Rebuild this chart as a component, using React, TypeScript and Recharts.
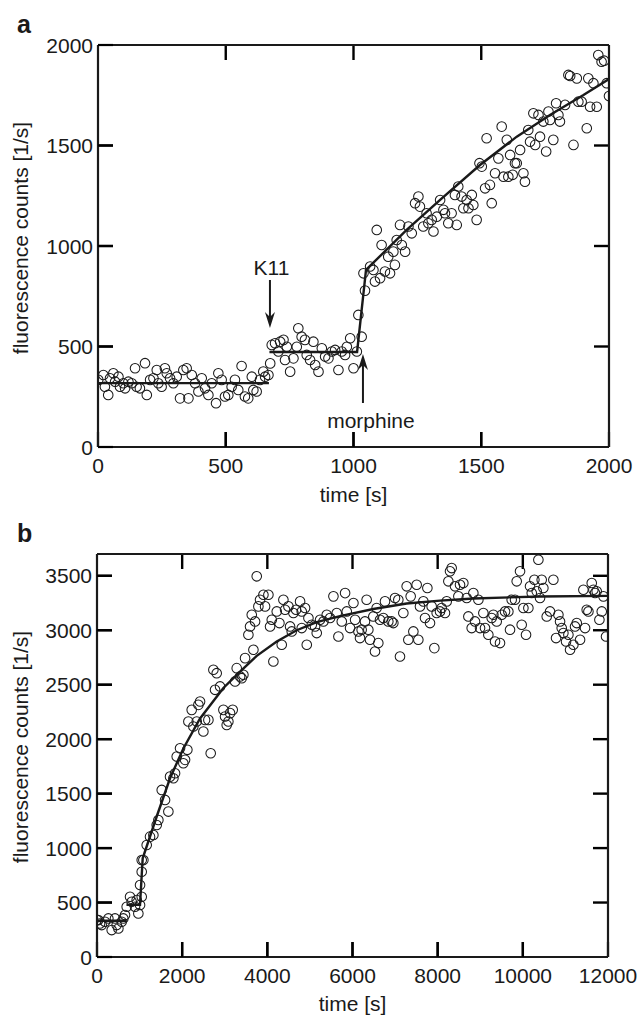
import React from 'react';
import { ComposedChart, Scatter, Line, XAxis, YAxis, ReferenceLine } from 'recharts';

const FONT = '"Liberation Sans", Arial, Helvetica, sans-serif';
const INK = '#1a1a1a';
const FS = 21;
const TICK_LEN = 15;

// ── panel a: K11 then morphine, 0–2000 s ─────────────────────────────────────
const aTime = [
  1, 21, 27, 40, 47, 60, 67, 80, 86, 99, 106, 119, 132, 145, 151, 164, 184, 191, 204, 217,
  230, 236, 249, 262, 269, 282, 295, 308, 321, 334, 347, 354, 367, 380, 393, 406, 419, 432, 445, 462,
  471, 484, 497, 510, 523, 536, 549, 562, 575, 588, 602, 608, 621, 634, 647, 654, 667,
  674, 680, 693, 706, 713, 726, 732, 739, 752, 765, 778, 784, 797, 810, 817, 830, 843, 850, 863,
  876, 889, 902, 915, 928, 941, 954, 967, 974, 987, 1000, 1013, 1019, 1032, 1039, 1045,
  1065, 1078, 1084, 1091, 1104, 1110, 1123, 1136, 1143, 1156, 1162, 1169, 1182, 1189, 1202, 1215, 1228, 1241,
  1254, 1260, 1273, 1286, 1293, 1306, 1313, 1326, 1339, 1352, 1358, 1371, 1384, 1397, 1404, 1410, 1423, 1430,
  1443, 1450, 1463, 1469, 1482, 1493, 1502, 1515, 1521, 1534, 1541, 1554, 1567, 1580, 1587, 1600, 1606, 1613,
  1623, 1632, 1639, 1652, 1665, 1671, 1684, 1691, 1704, 1711, 1724, 1730, 1743, 1754, 1763, 1769, 1782, 1793,
  1802, 1808, 1828, 1841, 1848, 1861, 1874, 1880, 1893, 1913, 1919, 1926, 1939, 1952, 1958, 1971, 1981, 1991, 2000,
];
const aCounts = [
  334, 358, 300, 259, 342, 367, 325, 350, 300, 317, 292, 325, 317, 392, 300, 292, 417, 259, 334, 342,
  383, 317, 300, 392, 367, 342, 317, 350, 242, 383, 392, 242, 358, 317, 276, 342, 292, 259, 317, 218,
  367, 334, 251, 259, 300, 334, 284, 403, 251, 242, 350, 284, 276, 334, 375, 350, 358,
  416, 508, 516, 475, 524, 533, 433, 499, 375, 441, 499, 591, 549, 533, 458, 433, 524, 408, 375,
  491, 450, 441, 475, 483, 383, 475, 458, 499, 541, 392, 475, 657, 549, 864, 778,
  898, 881, 823, 1080, 840, 1005, 873, 947, 864, 972, 906, 1030, 1105, 1005, 972, 1097, 1063, 1213,
  1246, 1196, 1097, 1163, 1113, 1130, 1072, 1146, 1229, 1180, 1163, 1113, 1163, 1254, 1105, 1296, 1246, 1188,
  1229, 1188, 1254, 1204, 1130, 1412, 1395, 1287, 1536, 1304, 1213, 1362, 1436, 1594, 1345, 1528, 1345, 1453,
  1354, 1412, 1412, 1478, 1362, 1320, 1577, 1519, 1660, 1503, 1652, 1544, 1619, 1470, 1669, 1627, 1528, 1710,
  1652, 1619, 1702, 1851, 1846, 1503, 1834, 1718, 1718, 1586, 1834, 1693, 1810, 1693, 1950, 1917, 1922, 1810, 1746,
];
const aFitTime = [0, 669, 670, 671, 1014, 1049, 1208, 1339, 1495, 1639, 1769, 1900, 2000];
const aFitCounts = [318, 318, null, 473, 473, 881, 1080, 1229, 1403, 1544, 1652, 1751, 1831];
const aXTicks = [0, 500, 1000, 1500, 2000];
const aYTicks = [0, 500, 1000, 1500, 2000];

// ── panel b: long run, 0–12000 s ─────────────────────────────────────────────
const bTime = [
  0, 32, 71, 110, 188, 267, 345, 423, 462, 502, 580, 619, 658, 697, 776, 815, 893, 932, 971, 1011,
  1011, 1050, 1050, 1050, 1089, 1167, 1245, 1324, 1402, 1441, 1520, 1598, 1676, 1715, 1794, 1833, 1872, 1950,
  2028, 2068, 2122, 2146, 2224, 2263, 2342, 2381, 2420, 2498, 2537, 2616, 2670, 2733, 2772, 2811, 2890, 2968,
  3007, 3046, 3085, 3125, 3187, 3242, 3281, 3360, 3399, 3438, 3477, 3555, 3594, 3634, 3673, 3712, 3751, 3790,
  3829, 3908, 3947, 4025, 4064, 4104, 4142, 4221, 4284, 4338, 4377, 4417, 4495, 4534, 4573, 4612, 4675, 4769,
  4808, 4808, 4886, 4926, 4965, 5043, 5121, 5160, 5239, 5317, 5395, 5474, 5552, 5630, 5669, 5748, 5826, 5865,
  5943, 6022, 6061, 6139, 6176, 6215, 6293, 6332, 6372, 6411, 6489, 6528, 6567, 6606, 6646, 6724, 6763, 6841,
  6920, 6959, 6998, 7076, 7115, 7194, 7272, 7311, 7366, 7429, 7507, 7546, 7585, 7664, 7703, 7758, 7820, 7859,
  7922, 7977, 8055, 8094, 8172, 8212, 8251, 8290, 8329, 8407, 8486, 8525, 8603, 8682, 8721, 8799, 8838, 8877,
  8956, 8995, 9073, 9112, 9190, 9269, 9308, 9347, 9386, 9464, 9504, 9582, 9660, 9699, 9738, 9817, 9856, 9934,
  9973, 10013, 10075, 10130, 10169, 10209, 10271, 10326, 10365, 10404, 10443, 10482, 10561, 10639, 10717, 10780,
  10835, 10874, 10913, 10952, 11015, 11070, 11109, 11187, 11226, 11266, 11344, 11422, 11461, 11500, 11540, 11618,
  11657, 11696, 11735, 11798, 11853, 11892, 11954,
];
const bCounts = [
  339, 339, 308, 293, 324, 354, 247, 354, 293, 262, 324, 354, 385, 461, 553, 507, 461, 523, 400, 477,
  661, 553, 783, 890, 890, 1028, 1105, 1120, 1212, 1258, 1534, 1442, 1335, 1656, 1641, 1687, 1840, 1917,
  1779, 1810, 1902, 2162, 2269, 2116, 2162, 2315, 2346, 2070, 2177, 2177, 1871, 2637, 2453, 2606, 2484, 2269,
  2208, 2131, 2162, 2239, 2269, 2530, 2652, 2576, 2560, 2591, 2744, 2959, 3035, 3142, 2821, 3081, 3495, 3219,
  3280, 3326, 3219, 3326, 3035, 3096, 2713, 3173, 3066, 2867, 3280, 3188, 3219, 3035, 2989, 3158, 3188, 3265,
  3173, 3020, 3204, 2867, 3112, 3050, 3035, 2974, 3096, 3081, 3142, 3112, 3311, 3158, 2943, 3081, 3341, 3173,
  3020, 3250, 3096, 2989, 2928, 3005, 3081, 3280, 3005, 2913, 3127, 2805, 3204, 2882, 3096, 3112, 3265, 3081,
  3081, 3066, 3296, 3280, 2759, 3158, 3403, 2913, 3311, 2989, 3418, 2913, 3219, 3265, 3112, 3388, 3066, 3219,
  2836, 3158, 3173, 3204, 3158, 3265, 3449, 3541, 3571, 3403, 3311, 3418, 3433, 3296, 3127, 3020, 3342, 3081,
  3280, 3020, 3158, 3020, 2959, 3112, 3142, 2897, 3081, 2882, 3142, 3173, 3173, 3005, 3280, 3280, 3449, 3541,
  3050, 3204, 2959, 3204, 3403, 3342, 3464, 3357, 3648, 3296, 3464, 3388, 3127, 3173, 3464, 2928,
  3142, 3081, 3020, 2974, 2897, 2959, 2821, 2867, 3035, 3066, 2913, 3372, 3020, 3188, 3173, 3434,
  3372, 3342, 3357, 3096, 3173, 3311, 2943,
];
const bFitTime = [0, 690, 691, 692, 1010, 1073, 1402, 1715, 2028, 2420, 2968, 3360, 3751, 4221, 4690, 5160, 5706, 6489, 7272, 8055, 8838, 10404, 12000];
const bFitCounts = [333, 333, null, 480, 480, 906, 1290, 1641, 1915, 2190, 2470, 2620, 2765, 2897, 3000, 3075, 3130, 3195, 3245, 3272, 3292, 3310, 3316];
const bXTicks = [0, 2000, 4000, 6000, 8000, 10000, 12000];
const bYTicks = [0, 500, 1000, 1500, 2000, 2500, 3000, 3500];

const zip = (t: number[], v: (number | null)[]) => t.map((x, i) => ({ t: x, v: v[i] }));

const OpenCircle = (p: any) => (
  <circle cx={p.cx} cy={p.cy} r={4.8} fill="none" stroke={INK} strokeWidth={1.05} />
);

// negative tickSize turns the tick marks inward; tickMargin puts the label anchor back on the axis line
const BottomLabel = (p: any) => (
  <text x={p.x} y={p.y + 25.5} textAnchor="middle" fontSize={FS} fontFamily={FONT} fill={INK}>
    {p.payload.value}
  </text>
);
const LeftLabel = (p: any) => (
  <text x={p.x - 5} y={p.y + 7.5} textAnchor="end" fontSize={FS} fontFamily={FONT} fill={INK}>
    {p.payload.value}
  </text>
);
const NoLabel = () => <g />;

function Arrow(p: any) {
  const dir = p.y2 > p.y1 ? 1 : -1;
  const { x2, y2 } = p;
  return (
    <g>
      <line x1={p.x1} y1={p.y1} x2={x2} y2={y2 - dir * 8} stroke={INK} strokeWidth={2} />
      <polygon
        points={`${x2},${y2} ${x2 - 5},${y2 - dir * 16} ${x2},${y2 - dir * 11} ${x2 + 5},${y2 - dir * 16}`}
        fill={INK}
      />
      <text x={p.x1 + p.tdx} y={p.y1 + p.tdy} textAnchor="middle" fontSize={FS} fontFamily={FONT} fill={INK}>
        {p.text}
      </text>
    </g>
  );
}

type Pt = { t: number; v: number | null };
type Box = { top: number; bottom: number; left: number; right: number };
type PanelProps = {
  letter: string;
  top: number;
  height: number;
  plot: Box;
  xMax: number;
  yMax: number;
  xTicks: number[];
  yTicks: number[];
  points: Pt[];
  fit: Pt[];
  xTitleY: number;
  yTitleY: number;
  children?: React.ReactNode;
};

// inner tick marks on all four frame edges (axis decoration only)
function FrameTicks({ plot, xMax, yMax, xTicks, yTicks }: { plot: Box; xMax: number; yMax: number; xTicks: number[]; yTicks: number[] }) {
  const px = (t: number) => plot.left + (t / xMax) * (plot.right - plot.left);
  const py = (v: number) => plot.bottom - (v / yMax) * (plot.bottom - plot.top);
  const s = { stroke: '#000', strokeWidth: 2.4 };
  const ix = xTicks.filter((t) => t > 0 && t < xMax);
  const iy = yTicks.filter((v) => v > 0 && v < yMax);
  return (
    <g className="frame-ticks">
      {ix.map((t) => (
        <line key={`t${t}`} x1={px(t)} x2={px(t)} y1={plot.top} y2={plot.top + TICK_LEN} {...s} />
      ))}
      {ix.map((t) => (
        <line key={`b${t}`} x1={px(t)} x2={px(t)} y1={plot.bottom - TICK_LEN} y2={plot.bottom} {...s} />
      ))}
      {iy.map((v) => (
        <line key={`l${v}`} x1={plot.left} x2={plot.left + TICK_LEN} y1={py(v)} y2={py(v)} {...s} />
      ))}
      {iy.map((v) => (
        <line key={`r${v}`} x1={plot.right - TICK_LEN} x2={plot.right} y1={py(v)} y2={py(v)} {...s} />
      ))}
    </g>
  );
}

function Panel({ letter, top, height, plot, xMax, yMax, xTicks, yTicks, points, fit, xTitleY, yTitleY, children }: PanelProps) {
  const axisLine = { stroke: INK, strokeWidth: 2.2 };
  const tickLine = { stroke: '#000', strokeWidth: 2.2 };
  const tickProps = { tickSize: -TICK_LEN, tickMargin: TICK_LEN, tickLine, axisLine, interval: 0 as const };
  return (
    <div style={{ position: 'absolute', left: 0, top }}>
      <ComposedChart
        width={638}
        height={height}
        margin={{ top: plot.top - 1, right: 638 - plot.right - 1, bottom: 0, left: 0 }}
      >
        <XAxis
          dataKey="t" type="number" domain={[0, xMax]} ticks={xTicks} allowDataOverflow
          height={height - plot.bottom} tick={BottomLabel} {...tickProps}
        />
        <XAxis
          xAxisId="top" orientation="top" dataKey="t" type="number" domain={[0, xMax]} ticks={xTicks}
          height={1} tick={NoLabel} {...tickProps}
        />
        <YAxis
          dataKey="v" type="number" domain={[0, yMax]} ticks={yTicks} allowDataOverflow
          width={plot.left} tick={LeftLabel} {...tickProps}
        />
        <YAxis
          yAxisId="right" orientation="right" type="number" domain={[0, yMax]} ticks={yTicks}
          width={1} tick={NoLabel} {...tickProps}
        />
        <Scatter data={points} dataKey="v" shape={OpenCircle} isAnimationActive={false} />
        <Line
          data={fit} dataKey="v" type="linear" stroke={INK} strokeWidth={2.4} dot={false}
          activeDot={false} connectNulls={false} isAnimationActive={false}
        />
        {children}
        <text x={17} y={plot.top - 12} fontSize={25} fontWeight="bold" fontFamily={FONT} fill={INK}>{letter}</text>
        <text x={(plot.left + plot.right) / 2} y={xTitleY} textAnchor="middle" fontSize={FS} fontFamily={FONT} fill={INK}>
          time [s]
        </text>
        <text
          x={28} y={yTitleY} textAnchor="middle" fontSize={FS} fontFamily={FONT} fill={INK}
          transform={`rotate(-90, 28, ${yTitleY})`}
        >
          fluorescence counts [1/s]
        </text>
        <FrameTicks plot={plot} xMax={xMax} yMax={yMax} xTicks={xTicks} yTicks={yTicks} />
      </ComposedChart>
    </div>
  );
}

export default function App() {
  return (
    <div style={{ position: 'absolute', left: 0, top: 0, width: 638, height: 1016, background: '#fff' }}>
      <Panel
        letter="a" top={0} height={515}
        plot={{ top: 45, bottom: 447, left: 98, right: 609 }}
        xMax={2000} yMax={2000} xTicks={aXTicks} yTicks={aYTicks}
        points={zip(aTime, aCounts)} fit={zip(aFitTime, aFitCounts)}
        xTitleY={502} yTitleY={238}
      >
        <ReferenceLine
          segment={[{ x: 673, y: 831 }, { x: 673, y: 592 }]}
          shape={(p: any) => <Arrow {...p} text="K11" tdx={1.5} tdy={-5} />}
        />
        <ReferenceLine
          segment={[{ x: 1037, y: 219 }, { x: 1037, y: 463 }]}
          shape={(p: any) => <Arrow {...p} text="morphine" tdx={8} tdy={25} />}
        />
      </Panel>
      <Panel
        letter="b" top={515} height={501}
        plot={{ top: 39, bottom: 442, left: 97, right: 608 }}
        xMax={12000} yMax={3700} xTicks={bXTicks} yTicks={bYTicks}
        points={zip(bTime, bCounts)} fit={zip(bFitTime, bFitCounts)}
        xTitleY={496} yTitleY={232}
      />
    </div>
  );
}
